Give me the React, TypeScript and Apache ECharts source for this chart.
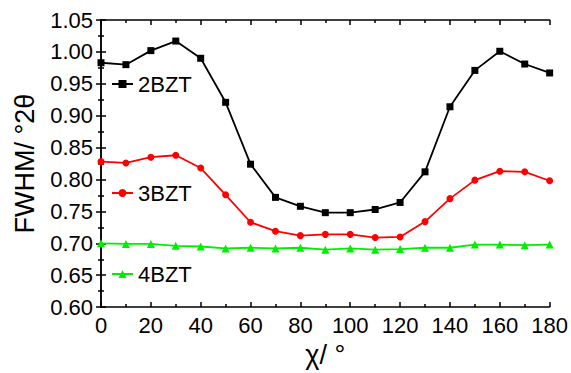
import React, { useEffect, useRef } from "react";
import * as echarts from "echarts";

const chi = [0, 10, 20, 30, 40, 50, 60, 70, 80, 90, 100, 110, 120, 130, 140, 150, 160, 170, 180];
const bzt2 = [0.983, 0.980, 1.002, 1.017, 0.990, 0.921, 0.824, 0.772, 0.758, 0.748, 0.748, 0.753, 0.764, 0.812, 0.914, 0.971, 1.001, 0.981, 0.967];
const bzt3 = [0.828, 0.826, 0.835, 0.838, 0.818, 0.776, 0.733, 0.719, 0.712, 0.714, 0.714, 0.709, 0.710, 0.734, 0.770, 0.799, 0.813, 0.812, 0.798];
const bzt4 = [0.700, 0.699, 0.699, 0.696, 0.695, 0.692, 0.693, 0.692, 0.693, 0.690, 0.692, 0.690, 0.691, 0.693, 0.693, 0.698, 0.698, 0.697, 0.698];

const FONT = "'Liberation Sans', Arial, sans-serif";

export default function App() {
  const ref = useRef<HTMLDivElement>(null);
  useEffect(() => {
    if (!ref.current) return;
    const chart = echarts.init(ref.current, undefined, { renderer: "svg" });
    const pair = (ys: number[]) => chi.map((x, i) => [x, ys[i]]);
    const axisLine = { lineStyle: { color: "#000", width: 1.5 } };
    const tick = { inside: true, length: 5, lineStyle: { color: "#000", width: 1.5 } };
    const minor = { show: true, splitNumber: 2, length: 3, lineStyle: { color: "#000", width: 1.5 } };
    const legendBase = {
      orient: "vertical" as const,
      itemWidth: 21,
      itemHeight: 10,
      padding: 0,
      textStyle: { fontFamily: FONT, fontSize: 22, color: "#000", padding: [0, 0, 0, 0] },
      selectedMode: false,
    };
    chart.setOption({
      animation: false,
      backgroundColor: "#fff",
      grid: { left: 101, top: 20, right: 19, bottom: 63 },
      legend: [
        { ...legendBase, data: ["2BZT"], left: 111, top: 73 },
        { ...legendBase, data: ["3BZT"], left: 111, top: 182 },
        { ...legendBase, data: ["4BZT"], left: 111, top: 263 },
      ],
      xAxis: [
        {
          type: "value", min: 0, max: 180, interval: 20,
          name: "χ/ °", nameLocation: "middle", nameGap: 33,
          nameTextStyle: { fontFamily: FONT, fontSize: 27, color: "#000" },
          axisLine, axisTick: tick, minorTick: minor,
          axisLabel: { fontFamily: FONT, fontSize: 22, color: "#000", margin: 7 },
          splitLine: { show: false },
        },
        {
          type: "value", min: 0, max: 180, interval: 20, position: "top",
          axisLine, axisTick: tick, minorTick: minor,
          axisLabel: { show: false }, splitLine: { show: false },
        },
      ],
      yAxis: [
        {
          type: "value", min: 0.6, max: 1.05, interval: 0.05,
          name: "FWHM/ °2θ", nameLocation: "middle", nameGap: 63,
          nameTextStyle: { fontFamily: FONT, fontSize: 27, color: "#000" },
          axisLine, axisTick: tick, minorTick: minor,
          axisLabel: { fontFamily: FONT, fontSize: 22, color: "#000", margin: 8, formatter: (v: number) => v.toFixed(2) },
          splitLine: { show: false },
        },
        {
          type: "value", min: 0.6, max: 1.05, interval: 0.05, position: "right",
          axisLine, axisTick: tick, minorTick: minor,
          axisLabel: { show: false }, splitLine: { show: false },
        },
      ],
      series: [
        { name: "2BZT", type: "line", data: pair(bzt2), symbol: "rect", symbolSize: 7, color: "#000", lineStyle: { width: 1.8, color: "#000" }, itemStyle: { color: "#000" } },
        { name: "3BZT", type: "line", data: pair(bzt3), symbol: "circle", symbolSize: 7, color: "#ff0000", lineStyle: { width: 1.8, color: "#ff0000" }, itemStyle: { color: "#ff0000" } },
        { name: "4BZT", type: "line", data: pair(bzt4), symbol: "triangle", symbolSize: 8, color: "#00ee00", lineStyle: { width: 1.8, color: "#00ee00" }, itemStyle: { color: "#00ee00" } },
      ],
    });
    return () => chart.dispose();
  }, []);
  return <div ref={ref} style={{ width: 571, height: 373, position: "absolute", left: 0, top: 0 }} />;
}
